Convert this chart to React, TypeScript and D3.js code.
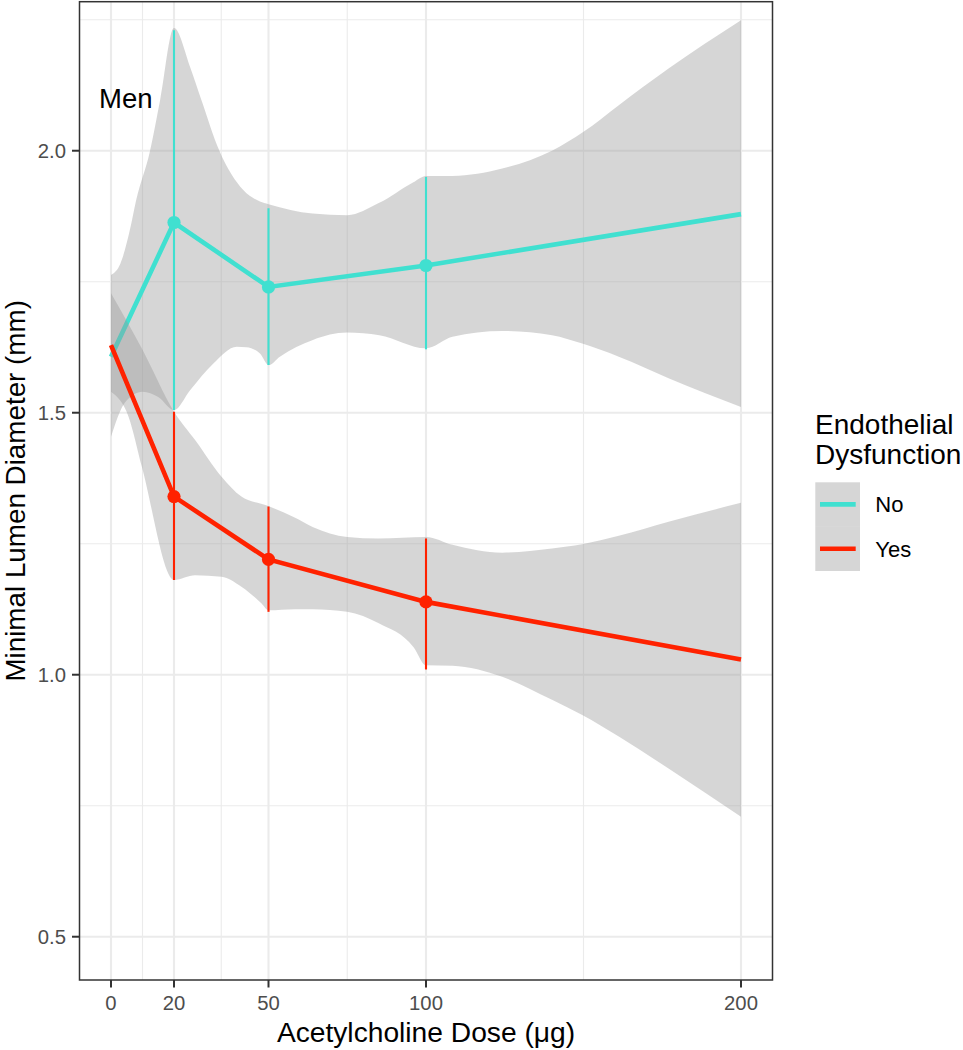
import React from "react";
import * as d3 from "d3";

// ---- data ----
const doses = [0, 20, 50, 100, 200];
const noMean = [1.607, 1.863, 1.74, 1.781, 1.879];
const yesMean = [1.629, 1.34, 1.22, 1.139, 1.029];

const errDoses = [20, 50, 100];
const noLow = [1.505, 1.591, 1.621];
const noHigh = [2.23, 1.89, 1.95];
const yesLow = [1.181, 1.12, 1.01];
const yesHigh = [1.502, 1.321, 1.26];

const noUpperX = [0, 3, 6, 8, 12.4, 15.6, 20, 25.1, 28.7, 34.4, 42, 47.3, 50, 64, 75, 85, 96, 100, 108.4, 124.2, 140, 150, 161.2, 177, 200];
const noUpperV = [1.763, 1.785, 1.849, 1.906, 2.0, 2.097, 2.234, 2.16, 2.097, 2.0, 1.925, 1.903, 1.898, 1.88, 1.877, 1.9, 1.94, 1.952, 1.952, 1.966, 2.0, 2.036, 2.087, 2.157, 2.249];
const noLowerX = [0, 4.5, 10, 15, 20, 25.1, 32.5, 39.9, 43, 47.3, 50, 53.6, 64.1, 74.9, 85.2, 100, 108.4, 124.2, 140, 149.6, 161.2, 177, 200];
const noLowerV = [1.454, 1.52, 1.54, 1.53, 1.505, 1.543, 1.594, 1.626, 1.625, 1.613, 1.591, 1.607, 1.639, 1.653, 1.648, 1.623, 1.645, 1.656, 1.648, 1.632, 1.607, 1.566, 1.511];

const yesUpperX = [0, 10, 20, 26.7, 35.1, 41.4, 49.9, 58.3, 64, 75, 85, 100, 108.4, 124.2, 140, 149.6, 161.2, 177, 200];
const yesUpperV = [1.728, 1.62, 1.502, 1.448, 1.378, 1.34, 1.322, 1.3, 1.282, 1.263, 1.26, 1.263, 1.248, 1.233, 1.241, 1.249, 1.265, 1.292, 1.328];
const yesLowerX = [0, 5.6, 9.8, 20, 26.7, 35.1, 41.4, 47.8, 50, 58.3, 64, 75, 85, 96, 100, 108.4, 124.2, 140, 149.6, 161.2, 177, 200];
const yesLowerV = [1.54, 1.492, 1.397, 1.181, 1.19, 1.187, 1.168, 1.136, 1.123, 1.125, 1.125, 1.12, 1.098, 1.053, 1.018, 1.017, 0.996, 0.952, 0.923, 0.882, 0.821, 0.729];

const xTicks = [0, 20, 50, 100, 200];
const xMinor = [10, 35, 75, 150];
const yTicks = [0.5, 1.0, 1.5, 2.0];
const yMinor = [0.75, 1.25, 1.75, 2.25];

const groups = ["No", "Yes"];
const colors = ["#40E0D0", "#FF2200"];

// ---- layout ----
const W = 963;
const H = 1050;
const panel = { left: 79.5, right: 772.5, top: 1.7, bottom: 980 };
const FONT = "'Liberation Sans', Arial, Helvetica, sans-serif";

export default function App() {
  const x = d3.scaleLinear().domain([-10, 210]).range([panel.left, panel.right]);
  const y = d3.scaleLinear().domain([0.4174, 2.2844]).range([panel.bottom, panel.top]);

  const edge = d3
    .line<[number, number]>()
    .x((d) => x(d[0]))
    .y((d) => y(d[1]))
    .curve(d3.curveMonotoneX);

  const ribbonPath = (ux: number[], uv: number[], lx: number[], lv: number[]) => {
    const up = ux.map((v, i) => [v, uv[i]] as [number, number]);
    const lo = lx.map((v, i) => [v, lv[i]] as [number, number]).reverse();
    const a = edge(up) || "";
    const b = (edge(lo) || "").replace(/^M/, "L");
    return a + b + "Z";
  };

  const meanLine = d3
    .line<number>()
    .x((_, i) => x(doses[i]))
    .y((d) => y(d));

  const ribbons = [
    ribbonPath(noUpperX, noUpperV, noLowerX, noLowerV),
    ribbonPath(yesUpperX, yesUpperV, yesLowerX, yesLowerV),
  ];
  const means = [noMean, yesMean];
  const lows = [noLow, yesLow];
  const highs = [noHigh, yesHigh];

  return (
    <svg
      width={W}
      height={H}
      style={{ position: "absolute", left: 0, top: 0, display: "block", background: "#fff" }}
      fontFamily={FONT}
    >
      <rect x={0} y={0} width={W} height={H} fill="#fff" />
      <defs>
        <clipPath id="panelClip">
          <rect x={panel.left} y={panel.top} width={panel.right - panel.left} height={panel.bottom - panel.top} />
        </clipPath>
      </defs>

      {/* grid */}
      <g>
        {yMinor.map((v) => (
          <line key={"ym" + v} x1={panel.left} x2={panel.right} y1={y(v)} y2={y(v)} stroke="#EBEBEB" strokeWidth={1.1} />
        ))}
        {xMinor.map((v) => (
          <line key={"xm" + v} x1={x(v)} x2={x(v)} y1={panel.top} y2={panel.bottom} stroke="#EBEBEB" strokeWidth={1.1} />
        ))}
        {yTicks.map((v) => (
          <line key={"yM" + v} x1={panel.left} x2={panel.right} y1={y(v)} y2={y(v)} stroke="#EBEBEB" strokeWidth={2.1} />
        ))}
        {xTicks.map((v) => (
          <line key={"xM" + v} x1={x(v)} x2={x(v)} y1={panel.top} y2={panel.bottom} stroke="#EBEBEB" strokeWidth={2.1} />
        ))}
      </g>

      {/* ribbons + lines per group */}
      <g clipPath="url(#panelClip)">
        {groups.map((g, gi) => (
          <g key={g}>
            <path d={ribbons[gi]} fill="#999999" fillOpacity={0.4} stroke="none" />
            <path d={meanLine(means[gi]) || ""} fill="none" stroke={colors[gi]} strokeWidth={4.6} />
          </g>
        ))}
        {/* error bars */}
        {groups.map((g, gi) => (
          <g key={"e" + g}>
            {errDoses.map((d, i) => (
              <line
                key={d}
                x1={x(d)}
                x2={x(d)}
                y1={y(lows[gi][i])}
                y2={y(highs[gi][i])}
                stroke={colors[gi]}
                strokeWidth={2.1}
              />
            ))}
          </g>
        ))}
        {/* points */}
        {groups.map((g, gi) => (
          <g key={"p" + g}>
            {errDoses.map((d) => {
              const idx = doses.indexOf(d);
              return <circle key={d} cx={x(d)} cy={y(means[gi][idx])} r={6.6} fill={colors[gi]} />;
            })}
          </g>
        ))}
      </g>

      {/* panel border */}
      <rect
        x={panel.left}
        y={panel.top}
        width={panel.right - panel.left}
        height={panel.bottom - panel.top}
        fill="none"
        stroke="#333333"
        strokeWidth={1.5}
      />

      {/* annotation */}
      <text x={99} y={108.3} fontSize={27.5} fill="#000">
        Men
      </text>

      {/* x axis */}
      <g>
        {xTicks.map((v) => (
          <g key={v}>
            <line x1={x(v)} x2={x(v)} y1={panel.bottom} y2={panel.bottom + 7.5} stroke="#333333" strokeWidth={2} />
            <text x={x(v)} y={1010} textAnchor="middle" fontSize={20.3} fill="#4D4D4D">
              {v}
            </text>
          </g>
        ))}
        <text x={(panel.left + panel.right) / 2} y={1041.7} textAnchor="middle" fontSize={28.2} fill="#000">
          Acetylcholine Dose (μg)
        </text>
      </g>

      {/* y axis */}
      <g>
        {yTicks.map((v) => (
          <g key={v}>
            <line x1={panel.left - 7.5} x2={panel.left} y1={y(v)} y2={y(v)} stroke="#333333" strokeWidth={2} />
            <text x={66} y={y(v)} dy="0.36em" textAnchor="end" fontSize={20.3} fill="#4D4D4D">
              {v.toFixed(1)}
            </text>
          </g>
        ))}
        <text
          transform={`translate(24.5, ${(panel.top + panel.bottom) / 2}) rotate(-90)`}
          textAnchor="middle"
          fontSize={27.8}
          fill="#000"
        >
          Minimal Lumen Diameter (mm)
        </text>
      </g>

      {/* legend */}
      <g>
        <text x={815} y={434.3} fontSize={28} fill="#000">
          Endothelial
        </text>
        <text x={815} y={463.5} fontSize={28} fill="#000">
          Dysfunction
        </text>
        {groups.map((g, gi) => (
          <g key={"l" + g} transform={`translate(815.3, ${482.3 + gi * 44.35})`}>
            <rect x={0} y={0} width={44.7} height={44.35} fill="#999999" fillOpacity={0.4} />
            <line x1={4.7} x2={40.4} y1={22.1} y2={22.1} stroke={colors[gi]} strokeWidth={4.6} />
            <text x={60} y={30.2} fontSize={22} fill="#000">
              {g}
            </text>
          </g>
        ))}
      </g>
    </svg>
  );
}
